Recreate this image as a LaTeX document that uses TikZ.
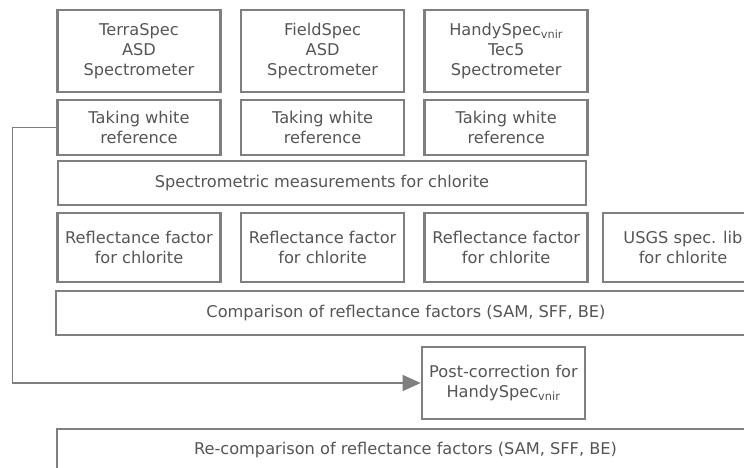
\documentclass[tikz,border=0pt]{standalone}
\usepackage{fontspec}
\setmainfont{DejaVu Sans}
\usetikzlibrary{positioning,arrows.meta}
\definecolor{boxgray}{HTML}{7F7F7F}
\definecolor{txtgray}{HTML}{555555}

\begin{document}
\begin{tikzpicture}[x=1pt,y=-1pt,>={Triangle[length=18pt,width=16pt]},
  node distance=8pt and 18pt,
  every node/.style={text=txtgray,font=\fontsize{16.2}{19.8}\selectfont,align=center,inner sep=0pt},
  thickbox/.style={draw=boxgray,line width=2.6pt,minimum width=163pt},
  thinbox/.style={draw=boxgray,line width=1.4pt}]
\useasboundingbox (0,0) rectangle (744,467);
\node[thickbox,minimum height=82pt] (d1) at (139,51) {TerraSpec\\ASD\\Spectrometer};
\node[thickbox,minimum height=82pt] (d2) [right=of d1] {FieldSpec\\ASD\\Spectrometer};
\node[thickbox,minimum height=82pt] (d3) [right=of d2] {HandySpec\textsubscript{vnir}\\Tec5\\Spectrometer};
\node[thickbox,minimum height=55pt] (wr1) at (139,127.5) {Taking white\\reference};
\node[thickbox,minimum height=55pt] (wr2) [right=of wr1] {Taking white\\reference};
\node[thickbox,minimum height=55pt] (wr3) [right=of wr2] {Taking white\\reference};
\node[thinbox,minimum width=528pt,minimum height=44pt] (meas) at (322,183) {Spectrometric measurements for chlorite};
\node[thickbox,minimum height=69pt] (rf1) at (139,247.5) {Reflectance factor\\for chlorite};
\node[thickbox,minimum height=69pt] (rf2) [right=of rf1] {Reflectance factor\\for chlorite};
\node[thickbox,minimum height=69pt] (rf3) [right=of rf2] {Reflectance factor\\for chlorite};
\node[thickbox,minimum width=160pt,minimum height=69pt] (usgs) at (683,247.5) {USGS spec. lib\\for chlorite};
\node[thinbox,minimum width=700pt,minimum height=44pt] (comp) at (406,313) {Comparison of reflectance factors (SAM, SFF, BE)};
\node[thickbox,minimum height=72pt] (post) at (503.5,383) {Post-correction for\\HandySpec\textsubscript{vnir}};
\node[thinbox,minimum width=697pt,minimum height=42pt] (recomp) at (405.5,450) {Re-comparison of reflectance factors (SAM, SFF, BE)};
\draw[->,draw=boxgray,line width=1.4pt] (wr1.west) -- ++(-44,0) |- (post.west);
\end{tikzpicture}
\end{document}
